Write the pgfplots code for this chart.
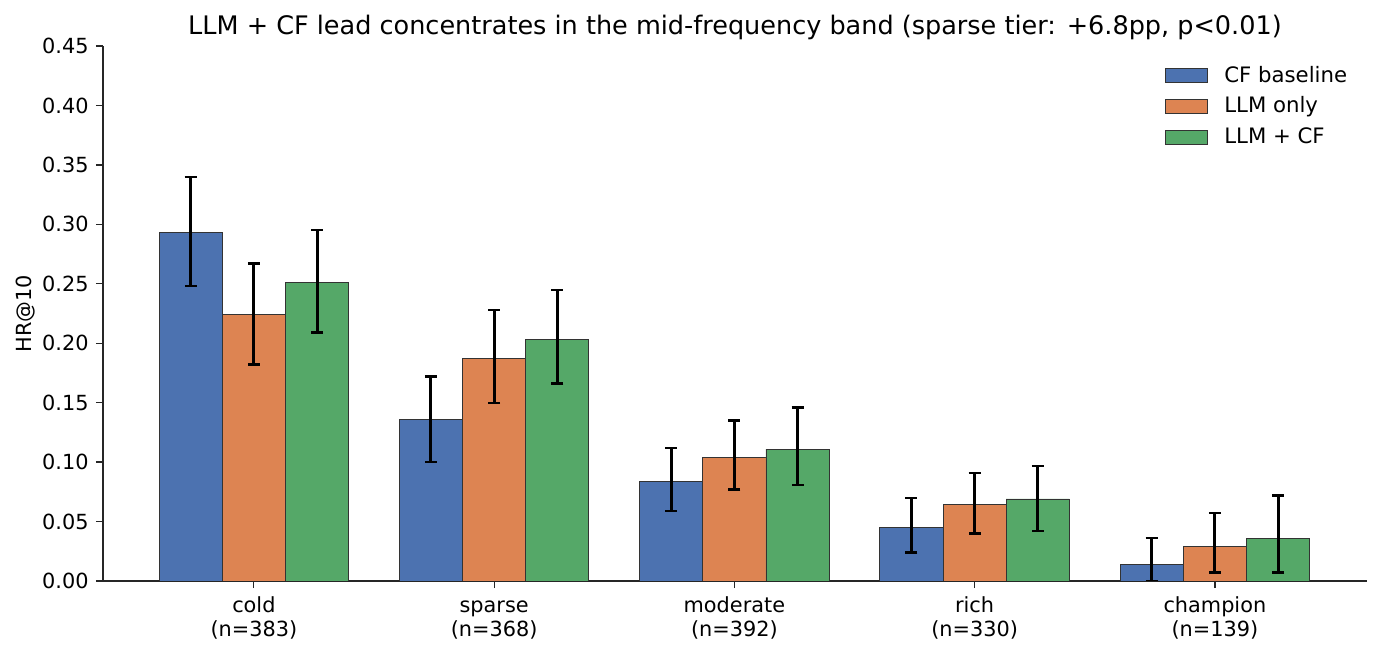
\documentclass[border=0pt]{standalone}
\usepackage{pgfplots}
\pgfplotsset{compat=1.18}
\usepackage{fontspec}
\setmainfont{DejaVu Sans}
\definecolor{cfb}{HTML}{4C72B0}
\definecolor{llm}{HTML}{DD8452}
\definecolor{both}{HTML}{55A868}
\begin{document}
\begin{tikzpicture}
\begin{axis}[
  scale only axis,
  width=606.7pt, height=256.8pt,
  xmin=-0.628, xmax=4.633,
  ymin=0, ymax=0.45,
  ytick={0,0.05,...,0.451},
  yticklabel style={/pgf/number format/fixed,/pgf/number format/fixed zerofill,/pgf/number format/precision=2, font=\fontsize{10}{12}\selectfont},
  /pgf/number format/assume math mode=true,
  xtick={0,1,2,3,4},
  xticklabels={cold\strut\\(n=383),sparse\strut\\(n=368),moderate\strut\\(n=392),rich\strut\\(n=330),champion\strut\\(n=139)},
  xticklabel style={align=center, font=\fontsize{10}{11.5}\selectfont},
  axis lines*=left,
  axis line style={-, line width=0.6pt, black!85},
  tick align=outside,
  tick style={line width=0.6pt, black!85},
  major tick length=3.4pt,
  ylabel={HR@10},
  ylabel style={font=\fontsize{10}{12}\selectfont, yshift=-3.4pt},
  title={LLM + CF lead concentrates in the mid-frequency band (sparse tier: +6.8pp, p<0.01)},
  title style={font=\fontsize{12.25}{14}\selectfont, yshift=-6.5pt},
  ybar=0pt,
  bar width=0.263,
  legend style={draw=none, fill=none, at={(0.985,0.985)}, anchor=north east, xshift=4.8pt, yshift=-1.5pt, font=\fontsize{10.2}{12}\selectfont, row sep=1.6pt},
  legend cell align=left,
  legend image code/.code={\draw[#1, line width=0.4pt] (0pt,-3.45pt) rectangle (20.6pt,3.45pt); \path (26.3pt,0pt);},
  every axis plot/.append style={draw=black!80, line width=0.4pt},
  error bars/y dir=both,
  error bars/y explicit,
  error bars/error bar style={line width=1.4pt, black},
  error bars/error mark options={rotate=90, mark size=2.9pt, line width=1.1pt, black},
]
\addplot[fill=cfb, bar shift=-0.263] coordinates {
 (0,0.293) += (0,0.047) -= (0,0.045)
 (1,0.136) += (0,0.036) -= (0,0.036)
 (2,0.084) += (0,0.028) -= (0,0.025)
 (3,0.045) += (0,0.025) -= (0,0.021)
 (4,0.014) += (0,0.022) -= (0,0.014)
};
\addlegendentry{CF baseline}
\addplot[fill=llm, bar shift=0] coordinates {
 (0,0.224) += (0,0.043) -= (0,0.042)
 (1,0.187) += (0,0.041) -= (0,0.037)
 (2,0.104) += (0,0.031) -= (0,0.027)
 (3,0.064) += (0,0.027) -= (0,0.024)
 (4,0.0288) += (0,0.0284) -= (0,0.0216)
};
\addlegendentry{LLM only}
\addplot[fill=both, bar shift=0.263] coordinates {
 (0,0.251) += (0,0.044) -= (0,0.042)
 (1,0.203) += (0,0.042) -= (0,0.037)
 (2,0.111) += (0,0.035) -= (0,0.030)
 (3,0.069) += (0,0.028) -= (0,0.027)
 (4,0.036) += (0,0.0359) -= (0,0.0288)
};
\addlegendentry{LLM + CF}
\end{axis}
\pgfresetboundingbox
\path (current axis.south west) ++(-49.44pt,-34.08pt) rectangle ++(662.4pt,312.96pt);
\end{tikzpicture}
\end{document}
